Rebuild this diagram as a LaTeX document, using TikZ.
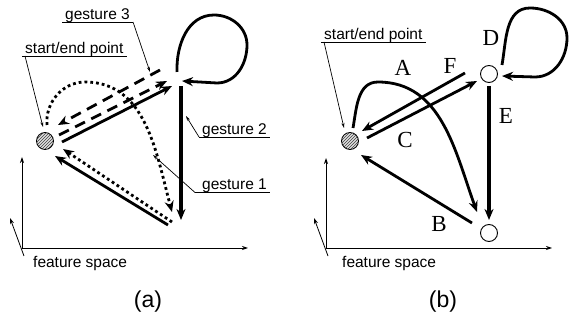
\documentclass[tikz,border=0pt]{standalone}
\usepackage{fontspec}
\setmainfont{Liberation Serif}
\setsansfont{Liberation Sans}
\usetikzlibrary{positioning,arrows.meta,calc,patterns}

\tikzset{
  mainarr/.style={line width=2.8pt, -{Stealth[length=11pt,width=9pt]}},
  dasharr/.style={mainarr, dash pattern=on 11pt off 7pt},
  dotarr/.style={mainarr, line width=2.8pt, dash pattern=on 2.8pt off 3pt},
  axis/.style={line width=0.8pt, -{Stealth[length=6pt,width=4pt]}},
  leader/.style={line width=0.7pt, -{Stealth[length=5pt,width=3pt]}},
  uline/.style={line width=0.9pt},
  tag/.style={font=\sffamily\fontsize{15.5}{18}\selectfont, inner xsep=3pt,
              inner ysep=2.5pt, text depth=0pt, anchor=south west},
  letter/.style={font=\fontsize{23}{26}\selectfont, inner sep=0pt},
  caption/.style={font=\sffamily\fontsize{23}{26}\selectfont, inner sep=0pt},
  hatchpt/.style={circle, draw, line width=0.8pt, minimum size=17pt, inner sep=0pt,
                  preaction={fill=gray!25}, pattern=north east lines, pattern color=black!75},
  openpt/.style={circle, draw, line width=0.9pt, fill=white, minimum size=17pt, inner sep=0pt}
}

\begin{document}
\begin{tikzpicture}[x=1pt, y=1pt]
  \useasboundingbox (0,0) rectangle (570,-320);

  % (a)
  \coordinate (oa) at (22,-248);
  \draw[axis] (oa) -- ++(0,91);
  \draw[axis] (oa) -- ++(226,0);
  \draw[axis] ($(oa)+(2,-8)$) -- ++(-14,38);
  \node[tag, anchor=base west, inner sep=0pt] (fsa) at (33,-268) {feature space};
  \node[caption] (capa) at (148,-302) {(a)};

  \node[hatchpt] (sa) at (45,-141) {};
  \coordinate (ta) at (178,-82);
  \coordinate (ba) at (170,-222);

  \draw[mainarr] ($(sa)+(17,-1)$) -- ($(ta)+(-6,-4)$);
  \draw[dasharr] ($(sa)+(14,6)$) -- ($(ta)+(-11,1)$);
  \draw[dasharr] ($(ta)+(-18,12)$) -- ($(sa)+(13,16)$);
  \draw[mainarr] ($(ta)+(-1,10)$) to[out=92,in=180] (214,-15) to[out=0,in=90] (247,-45)
    to[out=-90,in=0] (217,-83) -- ($(ta)+(4,1)$);
  \draw[mainarr, line width=3.2pt] ($(ta)+(3,-4)$) -- ($(ba)+(11,2)$);
  \draw[mainarr] ($(ba)+(-2,-3)$) -- ($(sa)+(10,-15)$);
  \draw[dotarr] ($(sa)+(2,16)$) to[out=95,in=180] (85,-82) to[out=0,in=105] ($(ba)+(2,10)$);
  \draw[dotarr] ($(ba)+(2,0)$) -- ($(sa)+(18,-8)$);

  \node[tag] (g3) at (62,-22) {gesture 3};
  \draw[uline] (g3.south west) -- (g3.south east);
  \draw[leader] (g3.south east) -- ($(ta)+(-28,10)$);
  \node[tag] (sea) at (22,-56) {start/end point};
  \draw[uline] (sea.south west) -- (sea.south east);
  \draw[leader] ($(sea.south west)+(3,0)$) -- ($(sa)+(-2,14)$);
  \node[tag] (g2) at (199,-137) {gesture 2};
  \draw[uline] (g2.south west) -- (g2.south east);
  \draw[leader] (g2.south west) -- ($(ta)+(8,-34)$);
  \node[tag] (g1) at (199,-192.5) {gesture 1};
  \draw[uline] ($(g1.south west)+(-4,0)$) -- (g1.south east);
  \draw[leader] ($(g1.south west)+(-4,0)$) -- (153,-155);

  % (b)
  \coordinate (ob) at (326,-248);
  \draw[axis] (ob) -- ++(0,90);
  \draw[axis] (ob) -- ++(226,0);
  \draw[axis] ($(ob)+(2,-8)$) -- ++(-14,38);
  \node[tag, anchor=base west, inner sep=0pt] (fsb) at (342,-268) {feature space};
  \node[caption] (capb) at (443,-302) {(b)};

  \node[hatchpt] (sb) at (350,-141) {};
  \node[openpt] (nd) at (489,-74) {};
  \node[openpt] (nb) at (489,-233) {};

  \draw[mainarr] ($(sb)+(3,13)$) to[out=80,in=180] (378,-82) to[out=0,in=110] ($(nb)+(-12,21)$);
  \draw[mainarr] ($(nd)+(-24,1)$) -- ($(sb)+(12,10)$);
  \draw[mainarr] ($(sb)+(17,3)$) -- ($(nd)+(-12,-7)$);
  \draw[mainarr, line width=3.2pt] ($(nd)+(0,-12)$) -- ($(nb)+(0,13)$);
  \draw[mainarr] ($(nb)+(-17,10)$) -- ($(sb)+(11,-14)$);
  \draw[mainarr] ($(nd)+(13,9)$) to[out=80,in=180] (530,-8) to[out=0,in=90] (567,-38)
    to[out=-90,in=0] (535,-77) -- ($(nd)+(13,-2)$);

  \node[letter] (la) at (403,-68) {A};
  \node[letter] (lf) at (450,-66) {F};
  \node[letter] (lc) at (405,-140) {C};
  \node[letter] (le) at (506,-116) {E};
  \node[letter] (lb) at (439,-224) {B};
  \node[letter] (ld) at (491,-38) {D};

  \node[tag] (seb) at (321,-42) {start/end point};
  \draw[uline] (seb.south west) -- (seb.south east);
  \draw[leader] ($(seb.south west)+(3,0)$) -- ($(sb)+(-6,13)$);
\end{tikzpicture}
\end{document}
